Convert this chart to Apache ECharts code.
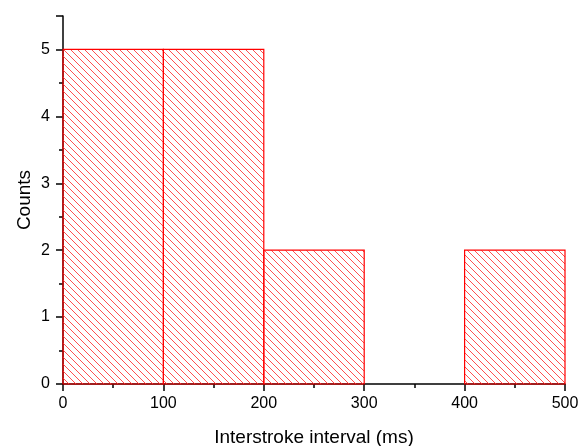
<!DOCTYPE html>
<html>
<head>
<meta charset="utf-8">
<script src="https://cdn.jsdelivr.net/npm/echarts@6/dist/echarts.min.js"></script>
<style>
  html, body { margin: 0; padding: 0; background: #fff; }
  #main { width: 579px; height: 446px; }
</style>
</head>
<body>
<div id="main"></div>
<script>
// histogram bins (ms) and counts
var binStart = [0, 100, 200, 300, 400];
var binEnd = [100, 200, 300, 400, 500];
var counts = [5, 5, 2, 0, 2];

var xTitle = 'Interstroke interval (ms)';
var yTitle = 'Counts';

// hatch pattern, lines going from top-left to bottom-right
function makeHatch() {
    var size = 7;
    var c = document.createElement('canvas');
    c.width = size;
    c.height = size;
    var ctx = c.getContext('2d');
    ctx.strokeStyle = '#ff5050';
    ctx.lineWidth = 1;
    ctx.beginPath();
    ctx.moveTo(-1, -1);
    ctx.lineTo(size + 1, size + 1);
    ctx.moveTo(-1, size - 1);
    ctx.lineTo(1, size + 1);
    ctx.moveTo(size - 1, -1);
    ctx.lineTo(size + 1, 1);
    ctx.stroke();
    return c;
}

var hatch = { image: makeHatch(), repeat: 'repeat' };

var data = [];
for (var i = 0; i < counts.length; i++) {
    data.push([binStart[i], binEnd[i], counts[i]]);
}

var myChart = echarts.init(document.getElementById('main'));

var option = {
    animation: false,
    grid: { left: 63, right: 14, top: 16, bottom: 62, outerBoundsMode: 'none', containLabel: false },
    xAxis: {
        type: 'value',
        min: 0,
        max: 500,
        interval: 100,
        name: xTitle,
        nameLocation: 'middle',
        nameGap: 44,
        nameMoveOverlap: false,
        nameTextStyle: { fontFamily: 'Liberation Sans', fontSize: 19, color: '#000' },
        axisLine: { show: true, lineStyle: { color: '#000', width: 1.5 } },
        axisTick: { show: true, length: 7, lineStyle: { color: '#000', width: 1.5 } },
        minorTick: { show: true, splitNumber: 2, length: 4, lineStyle: { color: '#000', width: 1.5 } },
        axisLabel: { fontFamily: 'Liberation Sans', fontSize: 16, color: '#000', margin: 12 },
        splitLine: { show: false }
    },
    yAxis: {
        type: 'value',
        min: 0,
        max: 5.5,
        interval: 1,
        name: yTitle,
        nameLocation: 'middle',
        nameGap: 29,
        nameMoveOverlap: false,
        nameTextStyle: { fontFamily: 'Liberation Sans', fontSize: 19, color: '#000' },
        axisLine: { show: true, lineStyle: { color: '#000', width: 1.5 } },
        axisTick: { show: true, length: 7, lineStyle: { color: '#000', width: 1.5 } },
        minorTick: { show: true, splitNumber: 2, length: 4, lineStyle: { color: '#000', width: 1.5 } },
        axisLabel: {
            fontFamily: 'Liberation Sans', fontSize: 16, color: '#000', margin: 13,
            formatter: function (v) { return v % 1 === 0 ? v : ''; }
        },
        splitLine: { show: false }
    },
    series: [{
        type: 'custom',
        data: data,
        encode: { x: [0, 1], y: 2 },
        renderItem: function (params, api) {
            var h = api.value(2);
            if (!h) return;
            var p0 = api.coord([api.value(0), h]);
            var p1 = api.coord([api.value(1), 0]);
            return {
                type: 'rect',
                shape: { x: p0[0], y: p0[1], width: p1[0] - p0[0], height: p1[1] - p0[1] },
                style: { fill: hatch, stroke: '#ff0000', lineWidth: 1.2 }
            };
        }
    }]
};

myChart.setOption(option);
</script>
</body>
</html>
